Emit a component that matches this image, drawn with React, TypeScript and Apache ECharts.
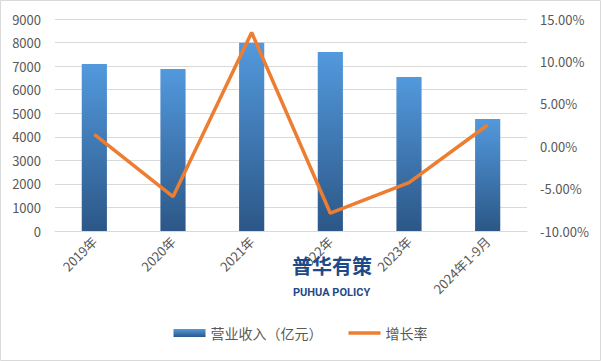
import React, { useEffect, useRef } from "react";
import * as echarts from "echarts";

const categories = ["2019年", "2020年", "2021年", "2022年", "2023年", "2024年1-9月"];
const revenue = [7090, 6880, 7990, 7600, 6540, 4750];
const growth = [1.4, -5.95, 13.4, -7.9, -4.3, 2.5];
const leftTicks = { min: 0, max: 9000, interval: 1000 };
const rightTicks = { min: -10, max: 15, interval: 5 };

export default function App() {
  const ref = useRef<HTMLDivElement>(null);
  useEffect(() => {
    document.body.style.margin = "0";
    const chart = echarts.init(ref.current!, null, { renderer: "svg" });
    const font = "'Noto Sans CJK SC', 'Noto Sans', sans-serif";
    chart.setOption({
      animation: false,
      textStyle: { fontFamily: font },
      grid: { left: 55, right: 74, top: 19, bottom: 130 },
      graphic: [
        {
          type: "rect",
          shape: { x: 0.5, y: 0.5, width: 600, height: 360 },
          style: { fill: "none", stroke: "#d9d9d9", lineWidth: 1 },
          silent: true,
        },
        {
          type: "text",
          left: 292,
          top: 255,
          z: 10,
          style: {
            text: "普华有策",
            fontSize: 20,
            fontWeight: "bold",
            fill: "#1e4a8a",
            fontFamily: font,
          },
        },
        {
          type: "text",
          left: 293,
          top: 287,
          z: 10,
          style: {
            text: "PUHUA POLICY",
            fontSize: 11,
            fontWeight: "bold",
            fill: "#1e4a8a",
            fontFamily: "'Liberation Sans Narrow', 'Roboto', sans-serif",
          },
        },
      ],
      legend: {
        bottom: 16,
        left: "center",
        itemGap: 26,
        itemWidth: 32,
        itemHeight: 8,
        textStyle: { color: "#595959", fontSize: 14, fontFamily: font },
        data: [
          { name: "营业收入（亿元）", icon: "rect" },
          {
            name: "增长率",
            icon: "path://M0,0h0.01v0.01h-0.01z M0,2.2h32v3.6h-32z M0,7.99h0.01v0.01h-0.01z",
            itemStyle: { color: "#ed7d31" },
          },
        ],
      },
      xAxis: {
        type: "category",
        data: categories,
        axisLine: { lineStyle: { color: "#d9d9d9" } },
        axisTick: { show: false },
        axisLabel: { rotate: 45, color: "#595959", fontSize: 13, interval: 0, margin: 8 },
      },
      yAxis: [
        {
          type: "value",
          ...leftTicks,
          axisLabel: { color: "#595959", fontSize: 13, margin: 14, formatter: (v: number) => String(v) },
          splitLine: { lineStyle: { color: "#d9d9d9" } },
          axisLine: { show: false },
          axisTick: { show: false },
        },
        {
          type: "value",
          ...rightTicks,
          position: "right",
          axisLabel: {
            color: "#595959",
            fontSize: 13,
            margin: 13,
            formatter: (v: number) => v.toFixed(2) + "%",
          },
          splitLine: { show: false },
          axisLine: { show: false },
          axisTick: { show: false },
        },
      ],
      series: [
        {
          name: "营业收入（亿元）",
          type: "bar",
          data: revenue,
          barWidth: "32%",
          itemStyle: {
            color: new echarts.graphic.LinearGradient(0, 0, 0, 1, [
              { offset: 0, color: "#5299dd" },
              { offset: 1, color: "#2c5787" },
            ]),
          },
        },
        {
          name: "增长率",
          type: "line",
          yAxisIndex: 1,
          data: growth,
          symbol: "none",
          lineStyle: { color: "#ed7d31", width: 3.5 },
          itemStyle: { color: "#ed7d31" },
        },
      ],
    });
    return () => chart.dispose();
  }, []);
  return <div ref={ref} style={{ width: 601, height: 361 }} />;
}
